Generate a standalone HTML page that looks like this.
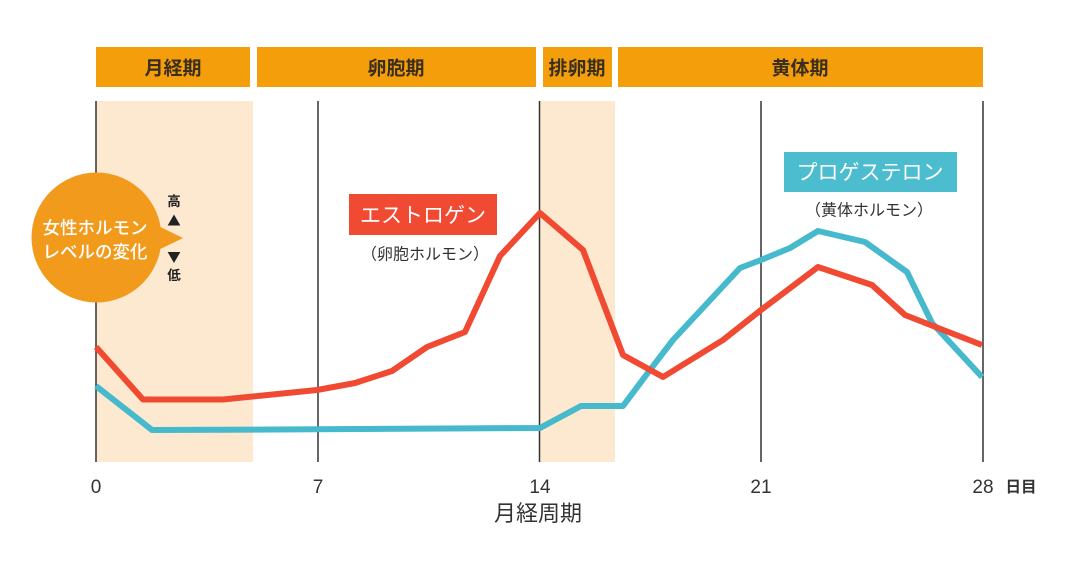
<!DOCTYPE html>
<html><head><meta charset="utf-8"><style>
html,body{margin:0;padding:0;background:#fff;}
svg{display:block;}
text{font-family:"Liberation Sans","Noto Sans CJK JP",sans-serif;}
.jp{font-family:"Noto Sans CJK JP","Liberation Sans",sans-serif;}
</style></head><body>
<svg width="1080" height="561" viewBox="0 0 1080 561" xmlns="http://www.w3.org/2000/svg">
<rect width="1080" height="561" fill="#fff"/>
<!-- header bars -->
<g fill="#f59e0b">
<rect x="96" y="47" width="154" height="40"/>
<rect x="257" y="47" width="279" height="40"/>
<rect x="543" y="47" width="69" height="40"/>
<rect x="618" y="47" width="365" height="40"/>
</g>
<g class="jp" font-size="19" font-weight="bold" fill="#3a2e1e" text-anchor="middle">
<text class="jp" x="173" y="74.5">月経期</text>
<text class="jp" x="396" y="74.5">卵胞期</text>
<text class="jp" x="577" y="74.5">排卵期</text>
<text class="jp" x="800" y="74.5">黄体期</text>
</g>
<!-- shaded bands -->
<rect x="96" y="101" width="157" height="361" fill="#fde9cf"/>
<rect x="540" y="101" width="75" height="361" fill="#fde9cf"/>
<!-- vertical lines -->
<g stroke="#333" stroke-width="1.5">
<line x1="96" y1="101" x2="96" y2="462"/>
<line x1="318" y1="101" x2="318" y2="462"/>
<line x1="539.5" y1="101" x2="539.5" y2="462"/>
<line x1="761" y1="101" x2="761" y2="462"/>
<line x1="983" y1="101" x2="983" y2="462"/>
</g>
<!-- progesterone -->
<polyline fill="none" stroke="#46b9cc" stroke-width="6" stroke-linejoin="round" points="96,386 152,430 317,429.3 540,428 581,406 623,406 650,370 673,340 740,268 761,260 790,248 818,231 865,242 907,272 932,323 982,377"/>
<!-- estrogen -->
<polyline fill="none" stroke="#f04a32" stroke-width="6" stroke-linejoin="round" points="96,347 143,399.5 223,399.5 317,390 355,383 392,371 427,347 465,332 500,256 540,213 583,250 623,355 663,377 723,340 761,310 818,267 872,285 905,315 933,326 982,345"/>
<!-- bubble -->
<path d="M150,222 L183,238 L150,254 Z" fill="#f29a1c"/>
<circle cx="96.5" cy="237.5" r="65" fill="#f29a1c"/>
<g class="jp" font-size="17.5" font-weight="500" fill="#fff" text-anchor="middle">
<text class="jp" x="95" y="234">女性ホルモン</text>
<text class="jp" x="95" y="258">レベルの変化</text>
</g>
<g class="jp" font-size="13.5" font-weight="bold" fill="#222" text-anchor="middle">
<text class="jp" x="174" y="206">高</text>
<text class="jp" x="174" y="226">▲</text>
<text class="jp" x="174" y="262">▼</text>
<text class="jp" x="174" y="280">低</text>
</g>
<!-- labels -->
<rect x="349" y="194" width="148" height="41" fill="#f04a32"/>
<text class="jp" x="423" y="222.5" font-size="21" fill="#fff" text-anchor="middle">エストロゲン</text>
<text class="jp" x="425" y="259.5" font-size="16" fill="#333" text-anchor="middle">（卵胞ホルモン）</text>
<rect x="784" y="152" width="173" height="40" fill="#4cbccf"/>
<text class="jp" x="870" y="179.5" font-size="21" fill="#fff" text-anchor="middle">プロゲステロン</text>
<text class="jp" x="869" y="215.5" font-size="16" fill="#333" text-anchor="middle">（黄体ホルモン）</text>
<!-- ticks -->
<g font-size="19" fill="#333" text-anchor="middle">
<text x="96" y="493">0</text>
<text x="318" y="493">7</text>
<text x="540" y="493">14</text>
<text x="761" y="493">21</text>
<text x="983" y="493">28</text>
</g>
<text class="jp" x="1021" y="492" font-size="15.5" font-weight="bold" fill="#333" text-anchor="middle">日目</text>
<text class="jp" x="538" y="521" font-size="22" fill="#333" text-anchor="middle">月経周期</text>
</svg>
</body></html>
